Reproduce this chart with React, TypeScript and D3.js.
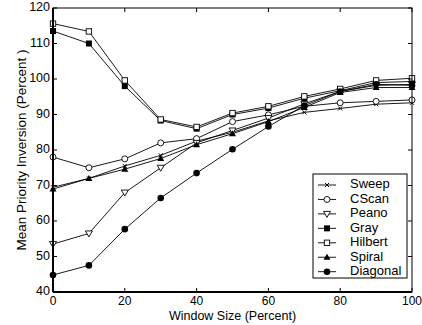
import React from "react";
import * as d3 from "d3";

const WINDOW_SIZES = [0, 10, 20, 30, 40, 50, 60, 70, 80, 90, 100];

const sweep = [69.5, 72, 75.5, 78.5, 82.5, 85, 88.2, 90.6, 91.7, 92.9, 93.3];
const cscan = [78, 75, 77.5, 82, 83.2, 88, 89.9, 92.3, 93.3, 93.7, 94.1];
const peano = [53.5, 56.5, 68, 75, 82, 85.5, 89, 93, 96.5, 98.2, 98.5];
const gray = [113.5, 110, 98, 88.3, 86, 90, 91.8, 94.6, 96.7, 99, 99.3];
const hilbert = [115.6, 113.4, 99.6, 88.6, 86.5, 90.4, 92.3, 95.1, 97.2, 99.6, 100.2];
const spiral = [69, 72, 74.6, 77.6, 81.5, 84.6, 88, 92, 96.2, 97.6, 97.6];
const diagonal = [44.8, 47.5, 57.7, 66.5, 73.5, 80.2, 86.6, 92.5, 96.5, 98.5, 98.2];

const SERIES = [
  { name: "Sweep", values: sweep, marker: "x" },
  { name: "CScan", values: cscan, marker: "circleOpen" },
  { name: "Peano", values: peano, marker: "triDownOpen" },
  { name: "Gray", values: gray, marker: "squareFilled" },
  { name: "Hilbert", values: hilbert, marker: "squareOpen" },
  { name: "Spiral", values: spiral, marker: "triUpFilled" },
  { name: "Diagonal", values: diagonal, marker: "circleFilled" },
];

const X_TICKS = [0, 20, 40, 60, 80, 100];
const Y_TICKS = [40, 50, 60, 70, 80, 90, 100, 110, 120];

const WIDTH = 422;
const HEIGHT = 325;
const MARGIN = { top: 8, right: 10, bottom: 33, left: 53 };
const FONT = "'Liberation Sans', Arial, Helvetica, sans-serif";

const Marker = ({ type, x, y }: { type: string; x: number; y: number }) => {
  switch (type) {
    case "x":
      return (
        <path
          d={`M${x - 2},${y - 2}L${x + 2},${y + 2}M${x - 2},${y + 2}L${x + 2},${y - 2}`}
          stroke="black"
          strokeWidth={1}
        />
      );
    case "circleOpen":
      return <circle cx={x} cy={y} r={3} fill="white" stroke="black" strokeWidth={0.9} />;
    case "triDownOpen":
      return (
        <path
          d={`M${x - 3.5},${y - 2.5}L${x + 3.5},${y - 2.5}L${x},${y + 3.5}Z`}
          fill="white"
          stroke="black"
          strokeWidth={0.9}
        />
      );
    case "squareFilled":
      return <rect x={x - 3} y={y - 3} width={6} height={6} fill="black" />;
    case "squareOpen":
      return (
        <rect x={x - 2.7} y={y - 2.7} width={5.4} height={5.4} fill="white" stroke="black" strokeWidth={0.9} />
      );
    case "triUpFilled":
      return <path d={`M${x - 3.5},${y + 2.5}L${x + 3.5},${y + 2.5}L${x},${y - 3.5}Z`} fill="black" />;
    case "circleFilled":
      return <circle cx={x} cy={y} r={3.3} fill="black" />;
    default:
      return null;
  }
};

export default function App() {
  const boundsW = WIDTH - MARGIN.left - MARGIN.right;
  const boundsH = HEIGHT - MARGIN.top - MARGIN.bottom;

  const xScale = d3.scaleLinear().domain([0, 100]).range([0, boundsW]);
  const yScale = d3.scaleLinear().domain([40, 120]).range([boundsH, 0]);

  const line = d3
    .line<number>()
    .x((_, i) => xScale(WINDOW_SIZES[i]))
    .y((d) => yScale(d));

  // legend box, in plot coordinates
  const legendX = 313 - MARGIN.left;
  const legendY = 174 - MARGIN.top;
  const legendRow = 14.45;

  return (
    <svg
      width={WIDTH}
      height={HEIGHT}
      style={{ position: "absolute", left: 0, top: 0, background: "white" }}
      fontFamily={FONT}
    >
      <g transform={`translate(${MARGIN.left},${MARGIN.top})`}>
        {SERIES.map((s) => (
          <g key={s.name}>
            <path d={line(s.values) ?? ""} fill="none" stroke="black" strokeWidth={0.9} />
            {s.values.map((v, i) => (
              <Marker key={i} type={s.marker} x={xScale(WINDOW_SIZES[i])} y={yScale(v)} />
            ))}
          </g>
        ))}

        {/* frame */}
        <rect x={0} y={0} width={boundsW} height={boundsH} fill="none" stroke="black" strokeWidth={1} />
        <line x1={0} x2={0} y1={0} y2={boundsH} stroke="black" strokeWidth={2} />
        <line x1={0} x2={boundsW} y1={boundsH} y2={boundsH} stroke="black" strokeWidth={2} />

        {X_TICKS.map((t) => (
          <g key={t}>
            <line x1={xScale(t)} x2={xScale(t)} y1={boundsH} y2={boundsH - 4} stroke="black" />
            <line x1={xScale(t)} x2={xScale(t)} y1={0} y2={4} stroke="black" />
            <text
              x={xScale(t)}
              y={boundsH + 9.5}
              textAnchor="middle"
              dominantBaseline="middle"
              fontSize={12}
            >
              {t}
            </text>
          </g>
        ))}

        {Y_TICKS.map((t) => (
          <g key={t}>
            <line x1={0} x2={4} y1={yScale(t)} y2={yScale(t)} stroke="black" />
            <line x1={boundsW} x2={boundsW - 4} y1={yScale(t)} y2={yScale(t)} stroke="black" />
            <text x={-3} y={yScale(t)} textAnchor="end" dominantBaseline="middle" fontSize={12.5}>
              {t}
            </text>
          </g>
        ))}

        {/* legend */}
        <rect
          x={legendX}
          y={legendY}
          width={94}
          height={104}
          fill="white"
          stroke="black"
          strokeWidth={1}
        />
        {SERIES.map((s, i) => {
          const cy = legendY + 11 + i * legendRow;
          return (
            <g key={s.name}>
              <line x1={legendX + 5} x2={legendX + 23} y1={cy} y2={cy} stroke="black" strokeWidth={0.9} />
              <Marker type={s.marker} x={legendX + 14} y={cy} />
              <text x={legendX + 37} y={cy} dominantBaseline="middle" fontSize={13}>
                {s.name}
              </text>
            </g>
          );
        })}
      </g>

      <text
        x={MARGIN.left + boundsW / 2}
        y={316.5}
        textAnchor="middle"
        dominantBaseline="middle"
        fontSize={12.5}
      >
        Window Size (Percent)
      </text>
      <text
        transform={`translate(22,${MARGIN.top + boundsH / 2}) rotate(-90)`}
        textAnchor="middle"
        dominantBaseline="middle"
        fontSize={13.5}
      >
        Mean Priority Inversion (Percent )
      </text>
    </svg>
  );
}
